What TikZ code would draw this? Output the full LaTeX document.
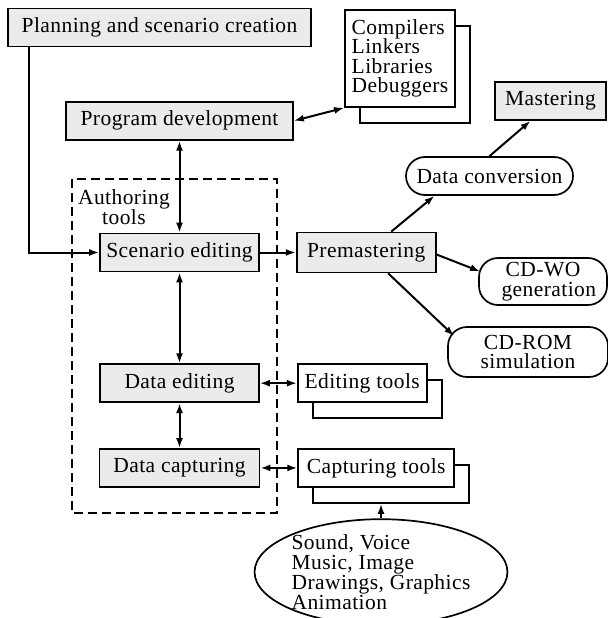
\documentclass[tikz,border=0pt]{standalone}
\usepackage{fontspec}
\setmainfont{Liberation Serif}[LetterSpace=2]
\usetikzlibrary{positioning,shapes.geometric,arrows.meta,shadows,calc}
\definecolor{boxgray}{gray}{0.92}

\begin{document}
\begin{tikzpicture}[
  x=1bp, y=-1bp,
  every node/.style = {font=\fontsize{21.5bp}{19.5bp}\selectfont},
  stage/.style   = {rectangle, draw, line width=1.7bp, fill=boxgray,
                    minimum height=38bp, inner sep=0pt},
  toolbox/.style = {rectangle, draw, line width=1.7bp, fill=white,
                    align=left, inner sep=0pt, minimum height=38bp,
                    copy shadow={shadow xshift=15bp, shadow yshift=-16bp,
                                 fill=white, draw=black, line width=1.7bp}},
  pill/.style    = {rectangle, rounded corners=19bp, draw, line width=1.7bp,
                    align=center, inner sep=0pt},
  arr/.style     = {-{Latex[length=10bp,width=7bp]}, line width=2bp},
  biarr/.style   = {{Latex[length=10bp,width=7bp]}-{Latex[length=10bp,width=7bp]},
                    line width=2bp},
]
\useasboundingbox (0,0) rectangle (608,618);
% authoring tools frame
\draw[line width=1.6bp, dash pattern=on 9bp off 5bp] (72,179) rectangle (277,513);
\node[align=center] (auth) at (124,207) {Authoring\\tools};

\node[stage, minimum width=303bp] (plan) at (159.5,27.5) {Planning and scenario creation};
\node[stage, minimum width=159bp] (scen) at (179.5,252.5) {Scenario editing};
\node[stage, minimum width=227bp, above=92bp of scen] (prog) {Program development};
\node[stage, minimum width=139bp, minimum height=40bp, right=36bp of scen] (prem) {Premastering};
\node[stage, minimum width=159bp, below=91bp of scen] (dedit) {Data editing};
\node[stage, minimum width=160bp, below=45bp of dedit] (dcap) {Data capturing};
\node[toolbox, minimum width=129bp, right=37bp of dedit] (edtools) {Editing tools};
\node[toolbox, minimum width=156bp, right=37bp of dcap] (captools) {Capturing tools};
\node[toolbox, minimum width=110bp, minimum height=97bp] (comp) at (400,58.5)
  {Compilers\\Linkers\\Libraries\\Debuggers};
\node[stage, minimum width=111bp] (master) at (550.5,101) {Mastering};
\node[pill, minimum width=167bp, minimum height=38bp] (conv) at (489.5,176) {Data conversion};
\node[pill, minimum width=128bp, minimum height=47bp] (cdwo) at (543,281.5) {CD-WO\\\ \ generation};
\node[pill, minimum width=160bp, minimum height=50bp] (cdrom) at (528,352) {CD-ROM\\simulation};
\node[ellipse, draw, line width=1.7bp, minimum width=252bp, minimum height=90bp,
      inner sep=0pt, align=left] (media) at (381,572)
  {Sound, Voice\\Music, Image\\Drawings, Graphics\\Animation};

\draw[arr] ([xshift=22bp]plan.south west) |- (scen.west);
\draw[biarr] (scen.north |- prog.south) -- (scen.north);
\draw[biarr] (prog.east) -- (comp.south west);
\draw[arr] (scen.east) -- (prem.west);
\draw[arr] ([xshift=25bp]prem.north) -- ([xshift=-55bp]conv.south);
\draw[arr] (conv.north) -- ([xshift=-20bp]master.south);
\draw[arr] ([yshift=-2bp]prem.east) -- ($(cdwo.west)+(2,-10)$);
\draw[arr] ([xshift=22bp]prem.south) -- ($(cdrom.west)+(7,-16)$);
\draw[biarr] (scen.south) -- (dedit.north);
\draw[biarr] (dedit.south) -- (dcap.north);
\draw[biarr] (dedit.east) -- (edtools.west);
\draw[biarr] (dcap.east) -- (captools.west);
\coordinate (capback) at ([yshift=-16bp]captools.south);
\draw[arr] (media.north) -- (media.north |- capback);
\end{tikzpicture}
\end{document}
